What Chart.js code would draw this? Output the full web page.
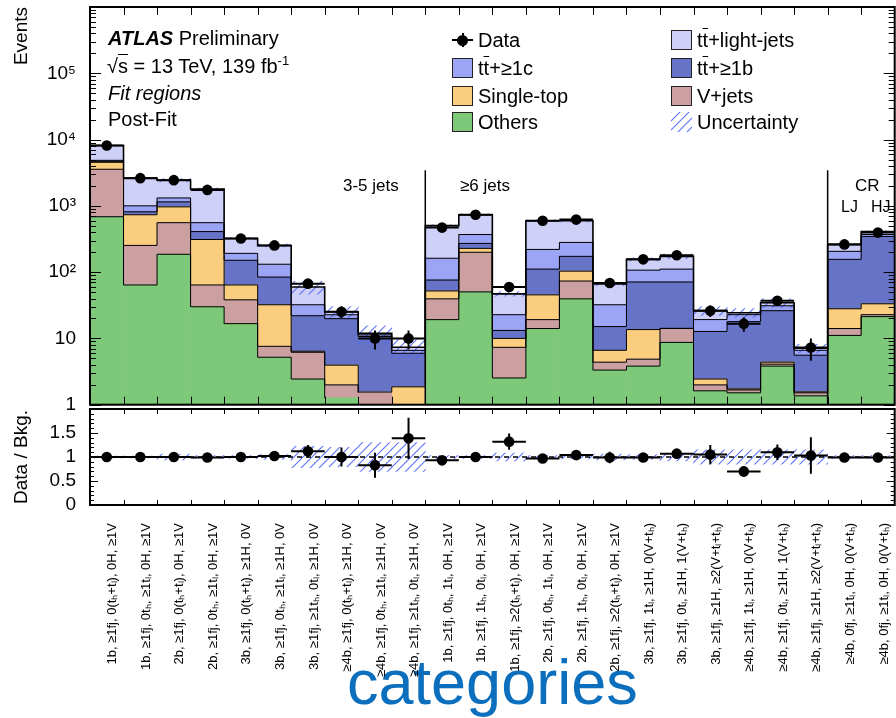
<!DOCTYPE html>
<html lang="en">
<head>
<meta charset="utf-8">
<title>Fit regions – post-fit event yields</title>
<script src="https://cdn.jsdelivr.net/npm/chart.js@4.4.1/dist/chart.umd.min.js"></script>
<style>
  html, body { margin: 0; padding: 0; background: #fff; }
  body { position: relative; width: 896px; height: 718px; overflow: hidden;
         font-family: "Liberation Sans", Arial, Helvetica, sans-serif; color: #000; }
  canvas { position: absolute; left: 0; }
  #mainChart { top: 0; }
  #ratioChart { top: 400px; }
  .lbl { position: absolute; white-space: nowrap; line-height: 1; transform: translateY(-50%); }
  .ov { text-decoration: overline; text-decoration-thickness: 1px; }
  .vt { position: absolute; white-space: nowrap; line-height: 1; font-size: 19px; transform-origin: 0 0; }
  .box { position: absolute; width: 21px; height: 20px; box-sizing: border-box; border: 1px solid #222; transform: translateY(-50%); }
  sup { font-size: 13px; vertical-align: 8px; line-height: 0; }
</style>
</head>
<body>
<canvas id="mainChart" width="900" height="410"></canvas>
<canvas id="ratioChart" width="900" height="318"></canvas>

<div class="lbl" style="left:108px;top:38px;font-size:20px"><b><i>ATLAS</i></b> Preliminary</div>
<div class="lbl" style="left:107px;top:66px;font-size:20px">√<span class="ov">s</span> = 13 TeV, 139 fb<sup>-1</sup></div>
<div class="lbl" style="left:108px;top:93px;font-size:20px"><i>Fit regions</i></div>
<div class="lbl" style="left:108px;top:119px;font-size:20px">Post-Fit</div>

<div class="lbl" style="left:343px;top:185px;font-size:17px">3-5 jets</div>
<div class="lbl" style="left:460px;top:185px;font-size:17px">≥6 jets</div>
<div class="lbl" style="left:855px;top:185px;font-size:17px">CR</div>
<div class="lbl" style="left:841px;top:207px;font-size:16px">LJ</div>
<div class="lbl" style="left:871px;top:207px;font-size:16px">HJ</div>

<div class="vt" style="left:11px;top:7px;transform:rotate(-90deg) translateX(-100%)">Events</div>
<div class="vt" style="left:11px;top:457px;transform:rotate(-90deg) translateX(-50%)">Data / Bkg.</div>

<div id="legend"></div>

<script>
// ---- analysis categories (fit regions) ----
const categories = [
  '1b, ≥1fj, 0(tₕ+tₗ), 0H, ≥1V',
  '1b, ≥1fj, 0tₕ, ≥1tₗ, 0H, ≥1V',
  '2b, ≥1fj, 0(tₕ+tₗ), 0H, ≥1V',
  '2b, ≥1fj, 0tₕ, ≥1tₗ, 0H, ≥1V',
  '3b, ≥1fj, 0(tₕ+tₗ), ≥1H, 0V',
  '3b, ≥1fj, 0tₕ, ≥1tₗ, ≥1H, 0V',
  '3b, ≥1fj, ≥1tₕ, 0tₗ, ≥1H, 0V',
  '≥4b, ≥1fj, 0(tₕ+tₗ), ≥1H, 0V',
  '≥4b, ≥1fj, 0tₕ, ≥1tₗ, ≥1H, 0V',
  '≥4b, ≥1fj, ≥1tₕ, 0tₗ, ≥1H, 0V',
  '1b, ≥1fj, 0tₕ, 1tₗ, 0H, ≥1V',
  '1b, ≥1fj, 1tₕ, 0tₗ, 0H, ≥1V',
  '1b, ≥1fj, ≥2(tₕ+tₗ), 0H, ≥1V',
  '2b, ≥1fj, 0tₕ, 1tₗ, 0H, ≥1V',
  '2b, ≥1fj, 1tₕ, 0tₗ, 0H, ≥1V',
  '2b, ≥1fj, ≥2(tₕ+tₗ), 0H, ≥1V',
  '3b, ≥1fj, 1tₗ, ≥1H, 0(V+tₕ)',
  '3b, ≥1fj, 0tₗ, ≥1H, 1(V+tₕ)',
  '3b, ≥1fj, ≥1H, ≥2(V+tₗ+tₕ)',
  '≥4b, ≥1fj, 1tₗ, ≥1H, 0(V+tₕ)',
  '≥4b, ≥1fj, 0tₗ, ≥1H, 1(V+tₕ)',
  '≥4b, ≥1fj, ≥1H, ≥2(V+tₗ+tₕ)',
  '≥4b, 0fj, ≥1tₗ, 0H, 0(V+tₕ)',
  '≥4b, 0fj, ≥1tₗ, 0H, 0(V+tₕ)'
];

// ---- post-fit background yields per process ----
const others    = [685, 64, 186, 30, 16.7, 5.2, 2.44, 1.27, 0, 0, 19.2, 50.3, 2.53, 14.1, 39.5, 3.33, 3.82, 8.71, 1.62, 1.51, 3.82, 1.36, 11.1, 21.3];
const vJets     = [2880, 189, 371, 34, 21.5, 2.4, 3.74, 0.72, 1.51, 0, 20.3, 149, 4.81, 5.1, 33.9, 1.05, 1.04, 5.39, 0.37, 0.16, 0.27, 0.15, 3.0, 1.5];
const singleTop = [975, 481, 409, 247, 25.8, 24.6, 0.22, 1.96, 0.04, 1.86, 12.5, 29, 2.66, 26.2, 30.1, 2.24, 8.74, 0.1, 0.45, 0.06, 0.29, 0.05, 13.9, 10.5];
const ttB       = [155, 79, 182, 98, 87, 52, 15.6, 15.9, 9.15, 4.11, 24, 43, 3.2, 65.6, 69.5, 8.48, 57.4, 56.8, 10.3, 16.2, 21.8, 4.02, 128, 312];
const ttC       = [165, 187, 167, 148, 41, 47.4, 10.2, 2.9, 0.6, 0.63, 86, 98, 9.6, 109, 108, 17.1, 36, 40, 6.5, 4.9, 4.9, 1.04, 50, 24];
const ttLight   = [3270, 1618, 1128, 1238, 130, 121, 27.5, 2.5, 0.6, 0.74, 341, 365, 24.2, 377, 316, 34, 49, 62, 7, 1.6, 3.4, 0.47, 56, 40];

// ---- observed data ----
const dataEvents = [8130, 2618, 2443, 1740, 322, 253, 67, 25.3, 10, 10, 470, 734, 59.7, 597, 620, 68.6, 156, 180, 26.2, 16.7, 36.9, 7.3, 262, 395];
const dataErr    = [90, 51, 49, 42, 18, 16, 8.2, 5, 3.2, 3.2, 22, 27, 7.7, 24, 25, 8.3, 12.5, 13.4, 5.1, 4.1, 6.1, 2.7, 16.2, 19.9];

// ---- data / background ratio ----
const ratio    = [1.0, 1.0, 1.0, 0.99, 1.0, 1.02, 1.12, 1.0, 0.83, 1.39, 0.93, 1.0, 1.32, 0.97, 1.04, 0.99, 0.99, 1.07, 1.05, 0.70, 1.10, 1.03, 0.99, 0.99];
const ratioErr = [0.01, 0.02, 0.02, 0.02, 0.06, 0.06, 0.13, 0.2, 0.26, 0.43, 0.04, 0.04, 0.17, 0.04, 0.04, 0.12, 0.08, 0.08, 0.2, 0.11, 0.16, 0.38, 0.06, 0.05];

// ---- relative total uncertainty of the prediction ----
const relUnc = [0.02, 0.02, 0.06, 0.03, 0.03, 0.05, 0.22, 0.2, 0.3, 0.3, 0.03, 0.03, 0.08, 0.03, 0.04, 0.06, 0.05, 0.08, 0.15, 0.15, 0.15, 0.15, 0.03, 0.03];

// ---- axis tick labels ----
const powerLabels = { 1: '1', 10: '10', 100: '10²', 1000: '10³', 10000: '10⁴', 100000: '10⁵' };
const ratioTickLabels = { 0: '0', 0.5: '0.5', 1: '1', 1.5: '1.5' };

// separator between the 3-5 jet, >=6 jet and control regions (bin edges)
const regionEdges = [9.5, 21.5];
const separatorTop = 3450;

const C = {
  others: '#7ec87a',
  vjets:  '#cca0a0',
  stop:   '#fbcd7f',
  ttb:    '#6673c6',
  ttc:    '#9ca5f5',
  ttl:    '#cfd0f7',
  hatch:  'rgba(85,105,245,0.95)',
  axisTitle: '#0b6fbd'
};

Chart.defaults.font.family = '"Liberation Sans", Arial, Helvetica, sans-serif';
Chart.defaults.color = '#000';

const n = categories.length;
const TT = 't<span class="ov">t</span>';

const processes = [
  { label: 'Others',        values: others,    color: C.others },
  { label: 'V+jets',        values: vJets,     color: C.vjets },
  { label: 'Single-top',    values: singleTop, color: C.stop },
  { label: 'tt̄+≥1b',        values: ttB,       color: C.ttb },
  { label: 'tt̄+≥1c',        values: ttC,       color: C.ttc },
  { label: 'tt̄+light-jets', values: ttLight,   color: C.ttl }
];

// running sums give the upper edge of every stacked component
const cumulative = [];
let running = categories.map(() => 0);
processes.forEach(p => {
  running = running.map((v, i) => v + p.values[i]);
  cumulative.push(running.slice());
});
const total = cumulative[cumulative.length - 1];

function hatchPattern(ctx) {
  const c = document.createElement('canvas');
  c.width = 9; c.height = 9;
  const g = c.getContext('2d');
  g.strokeStyle = C.hatch;
  g.lineWidth = 1.1;
  g.beginPath();
  g.moveTo(0, 9); g.lineTo(9, 0);
  g.moveTo(-4.5, 4.5); g.lineTo(4.5, -4.5);
  g.moveTo(4.5, 13.5); g.lineTo(13.5, 4.5);
  g.stroke();
  return ctx.createPattern(c, 'repeat');
}

// step outline through the bin edges of a histogram
function stepPoints(vals) {
  const pts = vals.map((v, i) => ({ x: i - 0.5, y: v }));
  pts.push({ x: n - 0.5, y: vals[n - 1] });
  return pts;
}
function hBars(vals) {
  const pts = [];
  vals.forEach((v, i) => { pts.push({ x: i - 0.5, y: v }, { x: i + 0.5, y: v }, { x: i, y: null }); });
  return pts;
}
function vBars(vals, errs) {
  const pts = [];
  vals.forEach((v, i) => { pts.push({ x: i, y: v - errs[i] }, { x: i, y: v + errs[i] }, { x: i, y: null }); });
  return pts;
}
const lineBase = { type: 'line', xAxisID: 'xl', pointRadius: 0, pointHoverRadius: 0, spanGaps: false, fill: false, tension: 0 };
const fullBin = { grouped: false, barPercentage: 1, categoryPercentage: 1, borderWidth: 0 };

// frame with inward ticks on all four sides
function framePlugin(id, cfg) {
  return {
    id,
    afterDraw(chart) {
      const { ctx, chartArea: a } = chart;
      const ys = chart.scales.y, xs = chart.scales.xl;
      ctx.save();
      ctx.strokeStyle = '#000';
      ctx.lineWidth = 1;
      ctx.beginPath();
      for (let i = 1; i < n; i++) {
        const px = Math.round(xs.getPixelForValue(i - 0.5)) + 0.5;
        ctx.moveTo(px, a.bottom); ctx.lineTo(px, a.bottom - cfg.xLen);
        ctx.moveTo(px, a.top); ctx.lineTo(px, a.top + cfg.xLen);
      }
      const tick = (v, len) => {
        const py = Math.round(ys.getPixelForValue(v)) + 0.5;
        if (py < a.top - 1 || py > a.bottom + 1) return;
        ctx.moveTo(a.left, py); ctx.lineTo(a.left + len, py);
        ctx.moveTo(a.right, py); ctx.lineTo(a.right - len, py);
      };
      cfg.major.forEach(v => tick(v, cfg.majorLen));
      cfg.minor.forEach(v => tick(v, cfg.minorLen));
      ctx.stroke();
      ctx.lineWidth = 2;
      ctx.strokeRect(a.left, a.top, a.right - a.left, a.bottom - a.top);
      ctx.restore();
    }
  };
}

// fixed-width value axis without extra label overhang
const fixYAxis = s => { s.width = 90; s.paddingTop = 0; s.paddingBottom = 0; };

const logMajor = [1, 10, 100, 1000, 10000, 100000, 1000000];
const logMinor = [];
for (let d = 0; d < 6; d++) for (let k = 2; k <= 9; k++) logMinor.push(k * Math.pow(10, d));
const linMajor = [0, 0.5, 1, 1.5, 2];
const linMinor = [];
for (let k = 1; k < 20; k++) if (k % 5) linMinor.push(k / 10);

// ================= main panel =================
const mainCanvas = document.getElementById('mainChart');
const mainCtx = mainCanvas.getContext('2d');

const stackSets = processes.map(p => ({
  type: 'bar', label: p.label, data: p.values, stack: 'mc', order: 10, xAxisID: 'x',
  backgroundColor: p.color, ...fullBin
}));
const outlineSets = cumulative.map((vals, k) => ({
  ...lineBase, label: 'edge' + k, data: stepPoints(vals), stepped: true,
  borderColor: '#000', borderWidth: k === cumulative.length - 1 ? 1.6 : 1, order: 6
}));

new Chart(mainCanvas, {
  type: 'bar',
  data: {
    labels: categories,
    datasets: [
      ...stackSets,
      { type: 'bar', label: 'Uncertainty', xAxisID: 'xb',
        data: total.map((t, i) => [t * (1 - relUnc[i]), t * (1 + relUnc[i])]),
        order: 8, backgroundColor: hatchPattern(mainCtx), ...fullBin },
      ...outlineSets,
      { ...lineBase, label: 'regions', order: 5, borderColor: '#000', borderWidth: 1.5,
        data: regionEdges.flatMap(e => [{ x: e, y: 1 }, { x: e, y: separatorTop }, { x: e, y: null }]) },
      { ...lineBase, label: 'data x', order: 2, borderColor: '#000', borderWidth: 2, data: hBars(dataEvents) },
      { ...lineBase, label: 'data err', order: 2, borderColor: '#000', borderWidth: 2, data: vBars(dataEvents, dataErr) },
      { ...lineBase, label: 'Data', order: 1, showLine: false, pointRadius: 5.3,
        pointBackgroundColor: '#000', pointBorderWidth: 0,
        data: dataEvents.map((v, i) => ({ x: i, y: v })) }
    ]
  },
  options: {
    responsive: false, animation: false, events: [],
    layout: { padding: { left: 0, right: 2, top: 7, bottom: 2 } },
    plugins: { legend: { display: false }, tooltip: { enabled: false } },
    scales: {
      x: { type: 'category', display: false, offset: true },
      xb: { type: 'category', display: false, offset: true },
      xl: { type: 'linear', display: false, offset: false, min: -0.5, max: n - 0.5 },
      y: {
        type: 'logarithmic', min: 1, max: 1e6,
        afterFit: fixYAxis,
        grid: { display: false }, border: { display: false },
        ticks: { autoSkip: false, padding: 6, font: { size: 19 }, color: '#000',
                 callback: v => powerLabels[v] ?? '' }
      }
    }
  },
  plugins: [framePlugin('frameMain', { xLen: 8, major: logMajor, minor: logMinor, majorLen: 11, minorLen: 6 })]
});

// ================= ratio panel =================
const ratioCanvas = document.getElementById('ratioChart');
const ratioCtx = ratioCanvas.getContext('2d');

new Chart(ratioCanvas, {
  type: 'bar',
  data: {
    labels: categories,
    datasets: [
      { type: 'bar', label: 'Uncertainty', xAxisID: 'x', data: relUnc.map(u => [1 - u, 1 + u]),
        order: 8, backgroundColor: hatchPattern(ratioCtx), ...fullBin },
      { ...lineBase, label: 'unity', order: 6, borderColor: '#000', borderWidth: 1.5, borderDash: [5, 4],
        data: [{ x: -0.5, y: 1 }, { x: n - 0.5, y: 1 }] },
      { ...lineBase, label: 'ratio x', order: 2, borderColor: '#000', borderWidth: 2, data: hBars(ratio) },
      { ...lineBase, label: 'ratio err', order: 2, borderColor: '#000', borderWidth: 2, data: vBars(ratio, ratioErr) },
      { ...lineBase, label: 'Data / Bkg.', order: 1, showLine: false, pointRadius: 5.3,
        pointBackgroundColor: '#000', pointBorderWidth: 0,
        data: ratio.map((v, i) => ({ x: i, y: v })) }
    ]
  },
  options: {
    responsive: false, animation: false, events: [],
    layout: { padding: { left: 0, right: 2, top: 9, bottom: 0 } },
    plugins: { legend: { display: false }, tooltip: { enabled: false } },
    scales: {
      x: {
        type: 'category', offset: true,
        grid: { display: false }, border: { display: false },
        afterFit: s => { s.height = 213; s.paddingLeft = 0; s.paddingRight = 0; },
        ticks: { autoSkip: false, minRotation: 90, maxRotation: 90, padding: 10, labelOffset: 6,
                 font: { size: 13 }, color: '#000' },
        title: { display: true, text: 'categories', color: C.axisTitle,
                 font: { size: 63, lineHeight: 1 }, padding: { top: 0, bottom: 0 } }
      },
      xl: { type: 'linear', display: false, offset: false, min: -0.5, max: n - 0.5 },
      y: {
        min: 0, max: 2,
        afterFit: fixYAxis,
        grid: { display: false }, border: { display: false },
        ticks: { autoSkip: false, stepSize: 0.5, padding: 6, font: { size: 19 }, color: '#000',
                 callback: v => ratioTickLabels[v] ?? '' }
      }
    }
  },
  plugins: [framePlugin('frameRatio', { xLen: 5, major: linMajor, minor: linMinor, majorLen: 8, minorLen: 4 })]
});

// ================= legend =================
const legendEntries = [
  { col: 0, row: 0, kind: 'data',  html: 'Data' },
  { col: 1, row: 0, kind: 'box',   color: C.ttl, html: TT + '+light-jets' },
  { col: 0, row: 1, kind: 'box',   color: C.ttc, html: TT + '+≥1c' },
  { col: 1, row: 1, kind: 'box',   color: C.ttb, html: TT + '+≥1b' },
  { col: 0, row: 2, kind: 'box',   color: C.stop, html: 'Single-top' },
  { col: 1, row: 2, kind: 'box',   color: C.vjets, html: 'V+jets' },
  { col: 0, row: 3, kind: 'box',   color: C.others, html: 'Others' },
  { col: 1, row: 3, kind: 'hatch', html: 'Uncertainty' }
];
const colX = [452, 671];
const rowY = [40, 68, 96, 122];
const legend = document.getElementById('legend');
legendEntries.forEach(e => {
  const x = colX[e.col], y = rowY[e.row];
  if (e.kind === 'box') {
    const b = document.createElement('div');
    b.className = 'box';
    b.style.left = x + 'px'; b.style.top = y + 'px'; b.style.background = e.color;
    legend.appendChild(b);
  } else if (e.kind === 'data') {
    const parts = [
      { l: x, t: y - 1, w: 21, h: 2, r: 0 },
      { l: x + 9.5, t: y - 7, w: 2, h: 14, r: 0 },
      { l: x + 5, t: y - 5.5, w: 11, h: 11, r: 6 }
    ];
    parts.forEach(p => {
      const d = document.createElement('div');
      Object.assign(d.style, { position: 'absolute', left: p.l + 'px', top: p.t + 'px', width: p.w + 'px',
        height: p.h + 'px', background: '#000', borderRadius: p.r + 'px' });
      legend.appendChild(d);
    });
  } else {
    const c = document.createElement('canvas');
    c.width = 21; c.height = 20;
    Object.assign(c.style, { left: x + 'px', top: (y - 10) + 'px' });
    const g = c.getContext('2d');
    g.fillStyle = hatchPattern(g);
    g.fillRect(0, 0, 21, 20);
    legend.appendChild(c);
  }
  const t = document.createElement('div');
  t.className = 'lbl';
  t.style.left = (x + 26) + 'px'; t.style.top = y + 'px'; t.style.fontSize = '20px';
  t.innerHTML = e.html;
  legend.appendChild(t);
});
</script>
</body>
</html>
